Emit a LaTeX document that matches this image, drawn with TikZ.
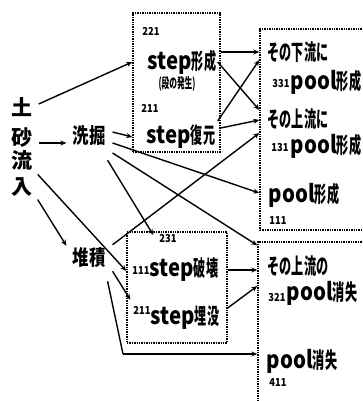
\documentclass[tikz,border=0pt]{standalone}
\usepackage{fontspec}
\setmainfont{Noto Sans CJK JP}[FakeStretch=0.55]
\newfontfamily\lat{Noto Sans CJK JP}[FakeStretch=0.85]
\newfontfamily\jpn{Noto Sans CJK JP}
\newfontfamily\jpm{Noto Sans CJK JP}[FakeStretch=0.78]
\usetikzlibrary{arrows.meta,calc}
\newcommand{\Lt}[1]{{\lat\fontsize{24}{24}\selectfont #1}}
\tikzset{
  vt/.style={font=\jpn\fontsize{21}{22}\selectfont\bfseries, inner sep=0pt},
  mid/.style={font=\jpm\fontsize{21}{22}\selectfont\bfseries, inner sep=0pt},
  txt/.style={font=\fontsize{22}{24}\selectfont\bfseries, inner sep=0pt},
  sml/.style={font=\fontsize{14}{15}\selectfont\bfseries, inner sep=0pt},
  tiny/.style={font=\lat\fontsize{11}{12}\selectfont\bfseries, inner sep=0pt},
  grp/.style={draw, densely dotted, line width=1.4pt, inner sep=0pt},
  con/.style={line width=1.4pt, -{Stealth[length=6pt,width=5pt]}},
  seg/.style={line width=1.4pt}
}
\begin{document}
\begin{tikzpicture}[x=1pt,y=-1pt]
\useasboundingbox (0,0) rectangle (362,401);
\clip (0,0) rectangle (362,401);
% left column
\node[vt] (c1) at (22,107) {土};
\node[vt] (c2) at (22,138) {砂};
\node[vt] (c3) at (22,160) {流};
\node[vt] (c4) at (22,187) {入};
\node[mid] (xk) at (89,136) {洗掘};
\node[mid] (tk) at (89,258) {堆積};
% box A
\node[grp, minimum width=87pt, minimum height=139pt] (bA) at (176.5,82.5) {};
\node[tiny] (a1) at (151,31) {221};
\node[txt] (sf) at (182,62) {\Lt{step}形成};
\node[sml] (sfs) at (177,84) {(段の発生)};
\node[tiny] (a2) at (150,108) {211};
\node[txt] (sr) at (181,137) {\Lt{step}復元};
% box B
\node[grp, minimum width=100pt, minimum height=111pt] (bB) at (177,287.5) {};
\node[tiny] (b1) at (168,239) {231};
\node[tiny] (b2) at (141,271) {111};
\node[txt] (sb) at (184,270) {\Lt{step}破壊};
\node[tiny] (b3) at (142,310) {211};
\node[txt] (sm) at (185,318) {\Lt{step}埋没};
% box R1
\node[grp, minimum width=110pt, minimum height=201pt] (bR1) at (315,129.5) {};
\node[txt] (r1) at (298,52) {その下流に};
\node[tiny] (r1n) at (281,84) {331};
\node[txt] (r1p) at (326,82) {\Lt{pool}形成};
\node[txt] (r2) at (298,119) {その上流に};
\node[tiny] (r2n) at (280,148) {131};
\node[txt] (r2p) at (326,146) {\Lt{pool}形成};
\node[txt] (r3) at (304,195) {\Lt{pool}形成};
\node[tiny] (r3n) at (278,221) {111};
% box R2
\node[grp, minimum width=112pt, minimum height=170pt] (bR2) at (314,327) {};
\node[txt] (q1) at (298,266) {その上流の};
\node[tiny] (q1n) at (277,298) {321};
\node[txt] (q1p) at (322,293) {\Lt{pool}消失};
\node[txt] (q2) at (302,361) {\Lt{pool}消失};
\node[tiny] (q2n) at (278,383) {411};
\coordinate (elb) at (123,354);
% connectors from left
\draw[con] ($(c1.east)+(6,-3)$) -- (bA.west |- sf.center);
\draw[con] ($(c2.east)+(6,5)$) -- ($(xk.west)+(-6,7)$);
\draw[con] ($(c4.north east)+(5,-3)$) -- (bB.west |- b2.center);
\draw[con] ($(c4.south east)+(5,3)$) -- ($(tk.north west)+(-6,-2)$);
% from 洗掘
\draw[con] ($(xk.east)+(7,-4)$) -- (bA.west |- sr.center);
\draw[con] ($(xk.east)+(7,7)$) -- ($(bR1.west |- r3.center)+(0,-2)$);
\draw[con] ($(xk.east)+(7,17)$) -- ($(bR2.north west)+(0,4)$);
\draw[con] ($(xk.south east)+(2,14)$) -- ($(b1.west)+(-6,-4)$);
% from 堆積
\draw[con] ($(tk.north east)+(7,-3)$) -- ($(bR1.west |- r2.center)+(0,14)$);
\draw[con] ($(tk.south east)+(7,3)$) -- ($(bB.west |- b3.north)+(4,-6)$);
\draw[seg] ($(tk.south east)+(2,13)$) -- (elb);
\draw[con] (elb) -- (elb -| bR2.west);
% box A to R1
\draw[con] (bA.east |- r1.center) -- (bR1.west |- r1.center);
\draw[con] ($(bA.east |- sf.center)+(-3,0)$) -- ($(bR1.west |- r2.center)+(0,-9)$);
\draw[con] ($(bA.east |- sr.center)+(-3,-16)$) -- ($(bR1.west |- r1.center)+(0,8)$);
\draw[con] ($(bA.east |- sr.center)+(0,-9)$) -- ($(bR1.west |- r2.center)+(0,1)$);
% box B to R2
\draw[con] (bB.east |- sb.center) -- (bR2.west |- sb.center);
\draw[con] ($(bB.east |- sm.center)+(0,-10)$) -- ($(bR2.west |- sb.center)+(0,16)$);
\end{tikzpicture}
\end{document}
